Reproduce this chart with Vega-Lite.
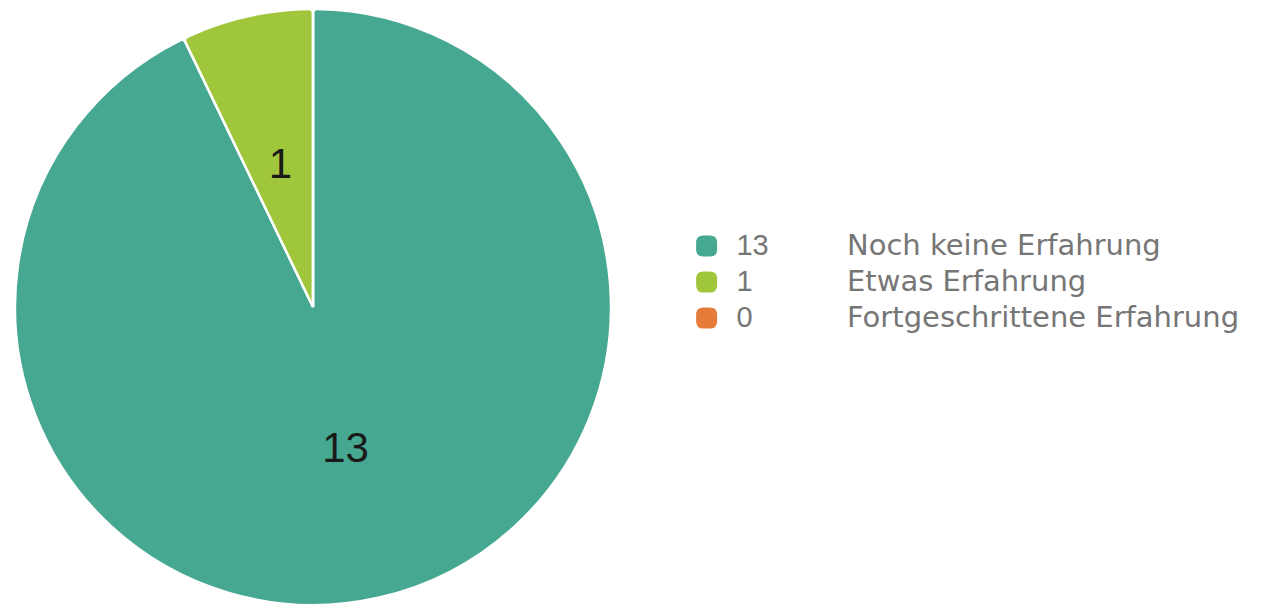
{
  "$schema": "https://vega.github.io/schema/vega-lite/v6.json",
  "description": "Erfahrung der Teilnehmenden",
  "background": "white",
  "padding": 0,
  "datasets": {
    "antworten": [
      {"Kategorie": "Noch keine Erfahrung", "Anzahl": 13},
      {"Kategorie": "Etwas Erfahrung", "Anzahl": 1},
      {"Kategorie": "Fortgeschrittene Erfahrung", "Anzahl": 0}
    ]
  },
  "config": {
    "view": {"stroke": null},
    "concat": {"spacing": 0},
    "text": {"font": "DejaVu Sans"}
  },
  "hconcat": [
    {
      "width": 626,
      "height": 614,
      "data": {"name": "antworten"},
      "layer": [
        {
          "mark": {"type": "arc", "outerRadius": 298, "stroke": "white", "strokeWidth": 2.5, "cornerRadius": 4},
          "encoding": {
            "theta": {"field": "Anzahl", "type": "quantitative", "stack": true},
            "order": {"field": "Anzahl", "sort": "descending"},
            "color": {
              "field": "Kategorie",
              "type": "nominal",
              "legend": null,
              "scale": {
                "domain": ["Noch keine Erfahrung", "Etwas Erfahrung", "Fortgeschrittene Erfahrung"],
                "range": ["#46a891", "#a0c63c", "#e67c3a"]
              }
            }
          }
        },
        {
          "transform": [{"filter": "datum.Anzahl > 0"}],
          "mark": {"type": "text", "radius": 146, "fontSize": 42, "font": "Liberation Sans", "color": "#1a1a1a", "baseline": "middle", "align": "center"},
          "encoding": {
            "theta": {"field": "Anzahl", "type": "quantitative", "stack": true},
            "order": {"field": "Anzahl", "sort": "descending"},
            "text": {"field": "Anzahl", "type": "quantitative"}
          }
        }
      ]
    },
    {
      "width": 647,
      "height": 614,
      "data": {"name": "antworten"},
      "encoding": {
        "y": {
          "field": "Kategorie",
          "type": "nominal",
          "sort": null,
          "axis": null,
          "scale": {"type": "point", "range": [246, 318], "padding": 0}
        }
      },
      "layer": [
        {
          "mark": {
            "type": "point",
            "filled": true,
            "opacity": 1,
            "size": 441,
            "shape": "M -0.3 -1 H 0.3 Q 1 -1 1 -0.3 V 0.3 Q 1 1 0.3 1 H -0.3 Q -1 1 -1 0.3 V -0.3 Q -1 -1 -0.3 -1 Z"
          },
          "encoding": {
            "x": {"datum": 81, "type": "quantitative", "scale": {"domain": [0, 647], "range": [0, 647]}, "axis": null},
            "color": {
              "field": "Kategorie",
              "type": "nominal",
              "legend": null,
              "scale": {
                "domain": ["Noch keine Erfahrung", "Etwas Erfahrung", "Fortgeschrittene Erfahrung"],
                "range": ["#46a891", "#a0c63c", "#e67c3a"]
              }
            }
          }
        },
        {
          "mark": {"type": "text", "align": "left", "baseline": "middle", "fontSize": 29, "font": "Liberation Sans", "color": "#767676"},
          "encoding": {
            "x": {"datum": 111, "type": "quantitative"},
            "text": {"field": "Anzahl", "type": "quantitative"}
          }
        },
        {
          "mark": {"type": "text", "align": "left", "baseline": "middle", "fontSize": 29, "color": "#767676"},
          "encoding": {
            "x": {"datum": 222, "type": "quantitative"},
            "text": {"field": "Kategorie", "type": "nominal"}
          }
        }
      ]
    }
  ]
}
